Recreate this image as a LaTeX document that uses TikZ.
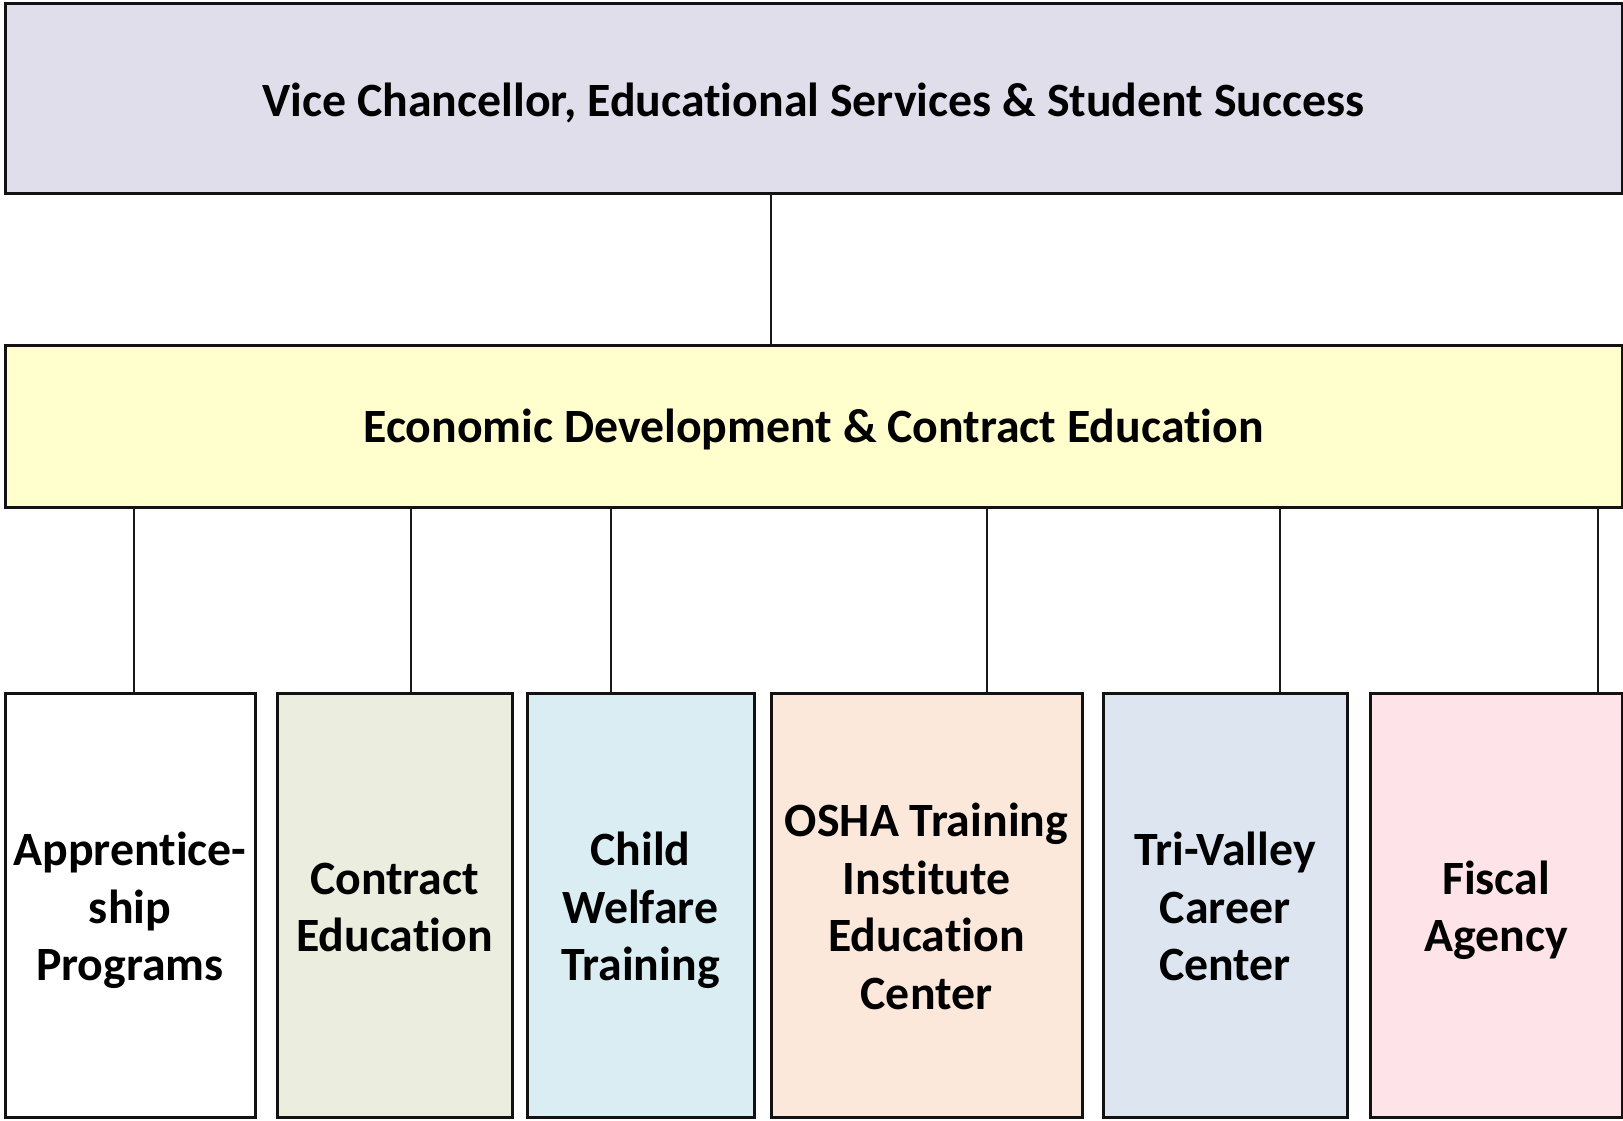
\documentclass[tikz,border=0pt]{standalone}
\usepackage{fontspec}
\setmainfont[Ligatures=NoCommon]{Carlito}
\definecolor{cTop}{HTML}{E1DEEC}
\definecolor{cMid}{HTML}{FFFECC}
\definecolor{cContract}{HTML}{EBEEDF}
\definecolor{cChild}{HTML}{DAEDF3}
\definecolor{cOsha}{HTML}{FCE8DA}
\definecolor{cTri}{HTML}{DCE5F0}
\definecolor{cFiscal}{HTML}{FEE3E8}
\begin{document}
\begin{tikzpicture}[x=1pt,y=-1pt,
  box/.style={draw=black!93,line width=3pt,rectangle,inner sep=0pt},
  lbl/.style={inner sep=0pt,align=center,text=black,
    font=\fontsize{47.8}{57.5}\selectfont\bfseries},
  txt/.style={label={[lbl,yshift=-6.5pt]center:{\strut #1\strut}}},
  txttop/.style={label={[lbl,yshift=-7pt]center:{\strut #1\strut}}},
  txtup/.style={label={[lbl,yshift=-4.5pt]center:{\strut #1\strut}}},
  link/.style={draw=black!90,line width=2pt}]
\fill[white] (0,0) rectangle (1623,1120);
\useasboundingbox (0,0) rectangle (1623,1120);
% top levels
\node[box,fill=cTop,minimum width=1617,minimum height=190,
  txttop={Vice Chancellor, Educational Services \& Student Success}] (vc) at (813.5,98) {};
\node[box,fill=cMid,minimum width=1617,minimum height=162,
  txtup={Economic Development \& Contract Education}] (ed) at (813.5,426) {};
% units
\node[box,fill=white,minimum width=250,minimum height=424,
  txt={Apprentice-\\ship\\Programs}] (ap) at (130,905) {};
\node[box,fill=cContract,minimum width=235,minimum height=424,
  txt={Contract\\Education}] (ce) at (394.5,905) {};
\node[box,fill=cChild,minimum width=227,minimum height=424,
  txt={Child\\Welfare\\Training}] (cw) at (640.5,905) {};
\node[box,fill=cOsha,minimum width=311,minimum height=424,
  txt={OSHA Training\\Institute\\Education\\Center}] (os) at (926.5,905) {};
\node[box,fill=cTri,minimum width=244,minimum height=424,
  txt={Tri-Valley\\Career\\Center}] (tv) at (1225,905) {};
\node[box,fill=cFiscal,minimum width=252,minimum height=424,
  txt={Fiscal\\Agency}] (fa) at (1496,905) {};
% connector positions
\coordinate (k0) at (771,0);
\coordinate (k1) at (134,0);
\coordinate (k2) at (411,0);
\coordinate (k3) at (611,0);
\coordinate (k4) at (987,0);
\coordinate (k5) at (1280,0);
\coordinate (k6) at (1598,0);
\draw[link] ([yshift=1.5pt]vc.south -| k0) -- ([yshift=-1.5pt]ed.north -| k0);
\draw[link] ([yshift=1.5pt]ed.south -| k1) -- ([yshift=-1.5pt]ap.north -| k1);
\draw[link] ([yshift=1.5pt]ed.south -| k2) -- ([yshift=-1.5pt]ce.north -| k2);
\draw[link] ([yshift=1.5pt]ed.south -| k3) -- ([yshift=-1.5pt]cw.north -| k3);
\draw[link] ([yshift=1.5pt]ed.south -| k4) -- ([yshift=-1.5pt]os.north -| k4);
\draw[link] ([yshift=1.5pt]ed.south -| k5) -- ([yshift=-1.5pt]tv.north -| k5);
\draw[link] ([yshift=1.5pt]ed.south -| k6) -- ([yshift=-1.5pt]fa.north -| k6);
\end{tikzpicture}
\end{document}
